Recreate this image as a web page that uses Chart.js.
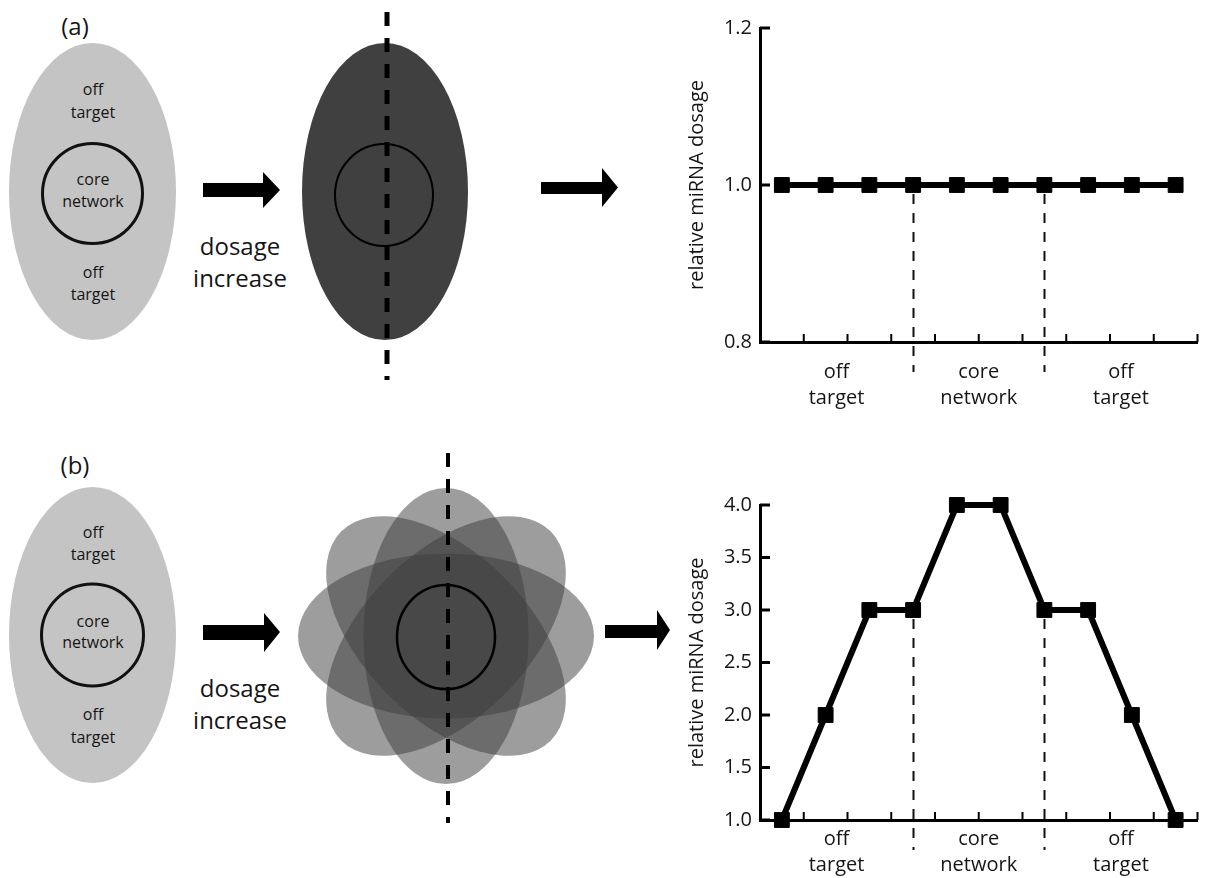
<!DOCTYPE html>
<html>
<head>
<meta charset="utf-8">
<script src="https://cdn.jsdelivr.net/npm/chart.js@4.4.1/dist/chart.umd.min.js"></script>
<style>
  html, body { margin: 0; padding: 0; background: #fff; }
  #page { position: relative; width: 1209px; height: 878px; overflow: hidden; font-family: 'Open Sans', sans-serif; }
  #page svg, #page canvas { position: absolute; }
  svg text { font-family: 'Open Sans', sans-serif; fill: #151515; text-anchor: middle; }
</style>
</head>
<body>
<div id="page">
  <!-- schematic on the left: target network before and after dosage increase -->
  <svg width="1209" height="878" style="left:0;top:0">
    <!-- (a) uniform increase -->
    <text x="75" y="35" style="font-size:24px">(a)</text>
    <ellipse cx="92.5" cy="191.5" rx="83.5" ry="148.5" fill="#c4c4c4"/>
    <circle cx="92.5" cy="193.5" r="50" fill="none" stroke="#111" stroke-width="3"/>
    <text x="93" y="95" style="font-size:16px">off</text>
    <text x="93" y="118" style="font-size:16px">target</text>
    <text x="93" y="185" style="font-size:16px">core</text>
    <text x="93" y="207" style="font-size:16px">network</text>
    <text x="93" y="278" style="font-size:16px">off</text>
    <text x="93" y="300" style="font-size:16px">target</text>
    <polygon points="203,183 263,183 263,172 280,190 263,208 263,197 203,197" fill="#000"/>
    <text x="240" y="255" style="font-size:24px">dosage</text>
    <text x="240" y="287" style="font-size:24px">increase</text>
    <ellipse cx="385" cy="191.5" rx="83" ry="148.5" fill="#404040"/>
    <ellipse cx="384" cy="195" rx="49" ry="51" fill="none" stroke="#000" stroke-width="2"/>
    <line x1="387" y1="12" x2="387" y2="380" stroke="#000" stroke-width="5" stroke-dasharray="14 12"/>
    <polygon points="541,182 602,182 602,168 618,187.5 602,207 602,194 541,194" fill="#000"/>

    <!-- (b) targeted increase -->
    <text x="75" y="474" style="font-size:24px">(b)</text>
    <ellipse cx="92.5" cy="635" rx="83.5" ry="148" fill="#c4c4c4"/>
    <circle cx="92.5" cy="635" r="51" fill="none" stroke="#111" stroke-width="3"/>
    <text x="93" y="538" style="font-size:16px">off</text>
    <text x="93" y="560" style="font-size:16px">target</text>
    <text x="93" y="627" style="font-size:16px">core</text>
    <text x="93" y="648" style="font-size:16px">network</text>
    <text x="93" y="720" style="font-size:16px">off</text>
    <text x="93" y="743" style="font-size:16px">target</text>
    <polygon points="203,625 264,625 264,613 280,632 264,652 264,640 203,640" fill="#000"/>
    <text x="240" y="697" style="font-size:24px">dosage</text>
    <text x="240" y="729" style="font-size:24px">increase</text>
    <g fill="rgba(60,60,60,0.5)">
      <ellipse cx="446" cy="636" rx="148" ry="82.5"/>
      <ellipse cx="446" cy="636" rx="148" ry="82.5" transform="rotate(45 446 636)"/>
      <ellipse cx="446" cy="636" rx="148" ry="82.5" transform="rotate(90 446 636)"/>
      <ellipse cx="446" cy="636" rx="148" ry="82.5" transform="rotate(135 446 636)"/>
    </g>
    <ellipse cx="446" cy="637" rx="49" ry="52" fill="none" stroke="#000" stroke-width="2.5"/>
    <line x1="448" y1="453" x2="448" y2="823" stroke="#000" stroke-width="4" stroke-dasharray="14 12"/>
    <polygon points="605,625 657,625 657,610 670,630 657,650 657,638 605,638" fill="#000"/>
  </svg>

  <canvas id="uniform" width="524" height="420" style="left:685px;top:0px"></canvas>
  <canvas id="peaked" width="524" height="438" style="left:685px;top:440px"></canvas>
</div>

<script>
// positions along the network, left to right
const positions = ['1', '2', '3', '4', '5', '6', '7', '8', '9', '10'];

// relative miRNA dosage at each position
const dosageUniform = [1.0, 1.0, 1.0, 1.0, 1.0, 1.0, 1.0, 1.0, 1.0, 1.0];
const dosagePeaked = [1.0, 2.0, 3.0, 3.0, 4.0, 4.0, 3.0, 3.0, 2.0, 1.0];

// y tick labels
const uniformTicks = [0.8, 1.0, 1.2];
const peakedTicks = [1.0, 1.5, 2.0, 2.5, 3.0, 3.5, 4.0];

// regions under the x axis, split at these positions (dashed lines)
const regionNames = [['off', 'target'], ['core', 'network'], ['off', 'target']];
const regionSplits = [3, 6];

Chart.defaults.font.family = "'Open Sans', sans-serif";
Chart.defaults.color = '#151515';

// draws the inward tick marks, the dashed region borders and the region names
function makeDecor(labelRows) {
    return {
        id: 'decor',
        beforeDatasetsDraw(chart) {
            const ctx = chart.ctx;
            const x = chart.scales.x;
            const y = chart.scales.y;
            const area = chart.chartArea;
            const values = chart.data.datasets[0].data;
            ctx.save();
            ctx.strokeStyle = '#111';
            ctx.lineWidth = 2;
            ctx.setLineDash([10, 9]);
            for (const idx of regionSplits) {
                const px = Math.round(x.getPixelForValue(idx)) + 0.5;
                ctx.beginPath();
                ctx.moveTo(px, y.getPixelForValue(values[idx]) + 9);
                ctx.lineTo(px, area.bottom + 30);
                ctx.stroke();
            }
            ctx.restore();
        },
        afterDraw(chart) {
            const ctx = chart.ctx;
            const x = chart.scales.x;
            const y = chart.scales.y;
            const area = chart.chartArea;
            ctx.save();
            ctx.strokeStyle = '#000';

            // y ticks pointing into the plot
            ctx.lineWidth = 3;
            for (const t of y.ticks) {
                const py = y.getPixelForValue(t.value);
                ctx.beginPath();
                ctx.moveTo(area.left, py);
                ctx.lineTo(area.left + 10, py);
                ctx.stroke();
            }

            // x ticks between positions
            ctx.lineWidth = 2;
            for (let i = 1; i <= positions.length; i++) {
                const px = x.getPixelForValue(i - 0.5);
                ctx.beginPath();
                ctx.moveTo(px, area.bottom);
                ctx.lineTo(px, area.bottom - 8);
                ctx.stroke();
            }

            // region names, centred between the splits
            const edges = [area.left];
            for (const idx of regionSplits) {
                edges.push(x.getPixelForValue(idx));
            }
            edges.push(area.right);
            ctx.fillStyle = '#151515';
            ctx.font = "20px 'Open Sans', sans-serif";
            ctx.textAlign = 'center';
            ctx.textBaseline = 'middle';
            regionNames.forEach((lines, i) => {
                const cx = (edges[i] + edges[i + 1]) / 2;
                lines.forEach((txt, j) => {
                    ctx.fillText(txt, cx, area.bottom + labelRows[j]);
                });
            });
            ctx.restore();
        }
    };
}

function buildChart(id, values, tickValues, padTop, axisHeight, labelRows) {
    return new Chart(document.getElementById(id), {
        type: 'line',
        data: {
            labels: positions,
            datasets: [{
                data: values,
                borderColor: '#000',
                borderWidth: 6,
                tension: 0,
                pointStyle: 'rect',
                pointRadius: 10.5,
                pointBorderWidth: 1,
                pointBackgroundColor: '#000',
                pointBorderColor: '#000',
                clip: false
            }]
        },
        options: {
            responsive: false,
            animation: false,
            layout: { padding: { top: padTop, right: 2, bottom: 0, left: 0 } },
            plugins: {
                legend: { display: false },
                tooltip: { enabled: false }
            },
            scales: {
                x: {
                    offset: true,
                    grid: { display: false, drawTicks: false },
                    border: { color: '#000', width: 3 },
                    ticks: { display: false },
                    afterFit: (scale) => { scale.height = axisHeight; }
                },
                y: {
                    min: tickValues[0],
                    max: tickValues[tickValues.length - 1],
                    afterBuildTicks: (scale) => {
                        scale.ticks = tickValues.map(v => ({ value: v }));
                    },
                    grid: { display: false, drawTicks: false },
                    border: { color: '#000', width: 3 },
                    ticks: {
                        padding: 8,
                        font: { size: 20 },
                        callback: (v) => Number(v).toFixed(1)
                    },
                    title: {
                        display: true,
                        text: 'relative miRNA dosage',
                        font: { size: 20 },
                        padding: 0
                    },
                    afterFit: (scale) => { scale.width = 75; }
                }
            }
        },
        plugins: [makeDecor(labelRows)]
    });
}

window.onload = function () {
    buildChart('uniform', dosageUniform, uniformTicks, 28, 78, [30, 56]);
    buildChart('peaked', dosagePeaked, peakedTicks, 65, 58, [19, 45]);
};
</script>
</body>
</html>
